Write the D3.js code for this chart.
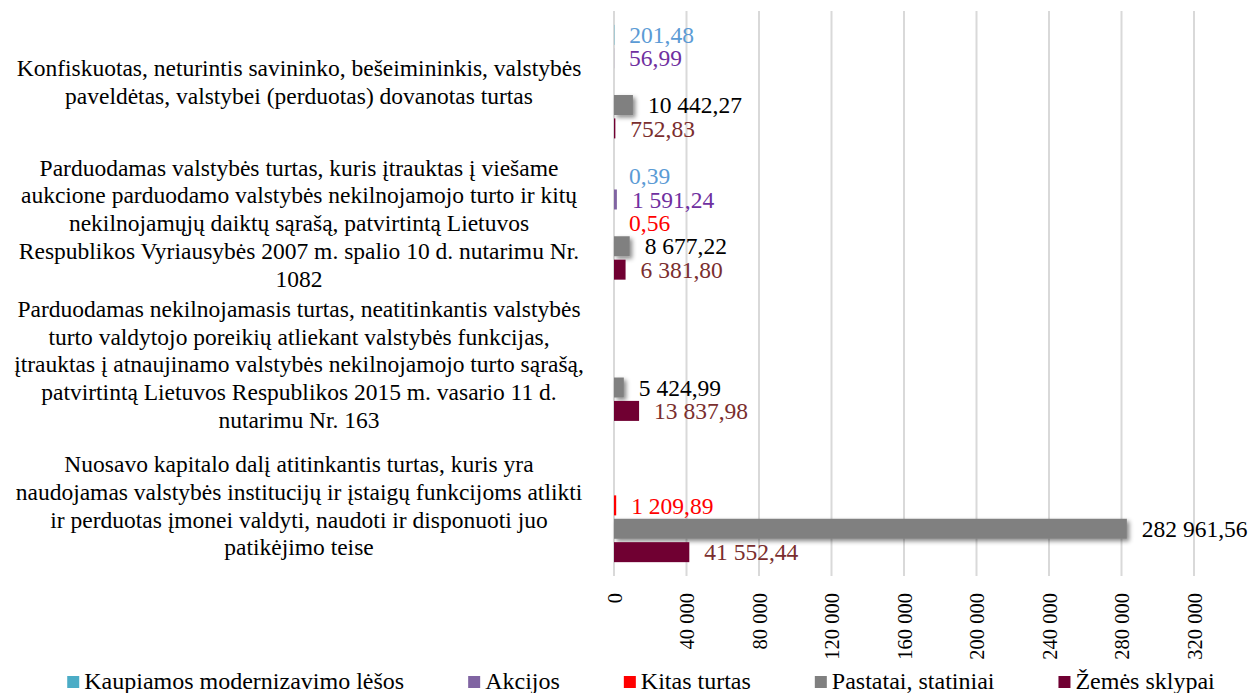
<!DOCTYPE html>
<html>
<head>
<meta charset="utf-8">
<script src="https://cdn.jsdelivr.net/npm/d3@7"></script>
<style>
    body { margin: 0; background: #fff; }
</style>
</head>
<body>
<div id="chart"></div>
<script>
// Category labels, already wrapped the way the original shows them
const categories = [
    ["Konfiskuotas, neturintis savininko, bešeimininkis, valstybės",
     "paveldėtas, valstybei (perduotas) dovanotas turtas"],
    ["Parduodamas valstybės turtas, kuris įtrauktas į viešame",
     "aukcione parduodamo valstybės nekilnojamojo turto ir kitų",
     "nekilnojamųjų daiktų sąrašą, patvirtintą Lietuvos",
     "Respublikos Vyriausybės 2007 m. spalio 10 d. nutarimu Nr.",
     "1082"],
    ["Parduodamas nekilnojamasis turtas, neatitinkantis valstybės",
     "turto valdytojo poreikių atliekant valstybės funkcijas,",
     "įtrauktas į atnaujinamo valstybės nekilnojamojo turto sąrašą,",
     "patvirtintą Lietuvos Respublikos 2015 m. vasario 11 d.",
     "nutarimu Nr. 163"],
    ["Nuosavo kapitalo dalį atitinkantis turtas, kuris yra",
     "naudojamas valstybės institucijų ir įstaigų funkcijoms atlikti",
     "ir perduotas įmonei valdyti, naudoti ir disponuoti juo",
     "patikėjimo teise"]
];

const seriesNames = ["Kaupiamos modernizavimo lėšos", "Akcijos", "Kitas turtas", "Pastatai, statiniai", "Žemės sklypai"];

// values per category (same order as categories)
const kaupiamos = [201.48, 0.39, null, null];
const akcijos = [56.99, 1591.24, null, null];
const kitasTurtas = [null, 0.56, null, 1209.89];
const pastatai = [10442.27, 8677.22, 5424.99, 282961.56];
const zemes = [752.83, 6381.80, 13837.98, 41552.44];

const tickValues = [0, 40000, 80000, 120000, 160000, 200000, 240000, 280000, 320000];

const barColors = ["#4bacc6", "#8064a2", "#ff0000", "#808080", "#700032"];
const labelColors = ["#5b9bd5", "#7030a0", "#ff0000", "#000000", "#7a2e2e"];

const seriesValues = [kaupiamos, akcijos, kitasTurtas, pastatai, zemes];

const FONT = "Liberation Serif";

let width = 1254,
    height = 693;

let margin = { top: 11, bottom: 117, left: 614, right: 0 };

const lt = d3.formatLocale({ decimal: ",", thousands: " ", grouping: [3], currency: ["", ""] });
const fmtValue = lt.format(",.2f");
const fmtTick = lt.format(",");

let svg = d3.select("#chart")
    .append("svg")
    .attr("width", width)
    .attr("height", height)
    .style("display", "block")
    .style("font-family", FONT);

// shadow for the grey bars
const defs = svg.append("defs");
defs.append("filter")
    .attr("id", "shadow")
    .attr("filterUnits", "userSpaceOnUse")
    .attr("x", 0).attr("y", 0).attr("width", width).attr("height", height)
    .append("feDropShadow")
    .attr("dx", 2.5).attr("dy", 2.5)
    .attr("stdDeviation", 2)
    .attr("flood-color", "#000")
    .attr("flood-opacity", 0.45);

// scales: 40 000 step is 72.5 px, the axis runs one step past the picture edge
let xScale = d3.scaleLinear()
    .domain([0, 360000])
    .range([margin.left, margin.left + 72.5 * 9]);

let yScale = d3.scaleBand()
    .domain(d3.range(categories.length))
    .range([margin.top, height - margin.bottom])
    .paddingInner(0.172)
    .paddingOuter(0.086);

let ySub = d3.scaleBand()
    .domain(d3.range(seriesNames.length))
    .range([0, yScale.bandwidth()])
    .paddingInner(0.145)
    .paddingOuter(0.0725);

// gridlines
svg.append("g")
    .selectAll("line")
    .data(tickValues)
    .enter()
    .append("line")
    .attr("x1", d => xScale(d))
    .attr("x2", d => xScale(d))
    .attr("y1", margin.top)
    .attr("y2", height - margin.bottom)
    .attr("stroke", "#d9d9d9")
    .attr("stroke-width", 2);

// x axis, labels rotated
let xAxis = svg.append("g")
    .attr("transform", `translate(0, ${height - margin.bottom})`)
    .call(d3.axisBottom(xScale).tickValues(tickValues).tickFormat(fmtTick).tickSize(0))
xAxis.attr("font-family", null);
xAxis.select(".domain").remove();
xAxis.selectAll("text")
    .attr("transform", "rotate(-90)")
    .attr("x", -17)
    .attr("y", 0)
    .attr("dy", "0.35em")
    .style("text-anchor", "end")
    .style("font-size", "20.5px")
    .style("font-family", FONT)
    .attr("fill", "#000");

// category labels
const catLabels = svg.append("g");
const lineH = 27.8;
categories.forEach((lines, i) => {
    const cy = yScale(i) + yScale.bandwidth() / 2;
    const t = catLabels.append("text")
        .attr("text-anchor", "middle")
        .style("font-family", FONT)
        .style("font-size", "23.5px")
        .attr("fill", "#000");
    lines.forEach((ln, j) => {
        t.append("tspan")
            .attr("x", 299)
            .attr("y", cy + (j - (lines.length - 1) / 2) * lineH)
            .attr("dy", "0.35em")
            .text(ln);
    });
});

// bars and value labels
seriesValues.forEach((vals, s) => {
    const pts = vals.map((v, i) => ({ cat: i, v: v })).filter(d => d.v !== null);
    const g = svg.append("g");

    g.selectAll("rect")
        .data(pts)
        .enter()
        .append("rect")
        .attr("x", xScale(0))
        .attr("y", d => yScale(d.cat) + ySub(s))
        .attr("width", d => xScale(d.v) - xScale(0))
        .attr("height", ySub.bandwidth())
        .attr("fill", barColors[s])
        .attr("filter", s === 3 ? "url(#shadow)" : null);

    g.selectAll("text")
        .data(pts)
        .enter()
        .append("text")
        .attr("x", d => xScale(d.v) + 15)
        .attr("y", d => yScale(d.cat) + ySub(s) + ySub.bandwidth() / 2)
        .attr("dy", "0.35em")
        .style("font-family", FONT)
        .style("font-size", "23.5px")
        .attr("fill", labelColors[s])
        .text(d => fmtValue(d.v));
});

// legend
const legend = svg.append("g");
let lx = 0;
seriesNames.forEach((name, i) => {
    const item = legend.append("g");
    item.append("rect")
        .attr("x", 0).attr("y", -13)
        .attr("width", 12).attr("height", 12)
        .attr("fill", barColors[i]);
    const txt = item.append("text")
        .attr("x", 17)
        .attr("y", 0)
        .style("font-family", FONT)
        .style("font-size", "24px")
        .attr("fill", "#000")
        .text(name);
    item.attr("transform", `translate(${lx}, 0)`);
    lx += 17 + txt.node().getComputedTextLength() + 64;
});
const legendW = lx - 64;
legend.attr("transform", `translate(${641 - legendW / 2}, 689)`);
</script>
</body>
</html>
